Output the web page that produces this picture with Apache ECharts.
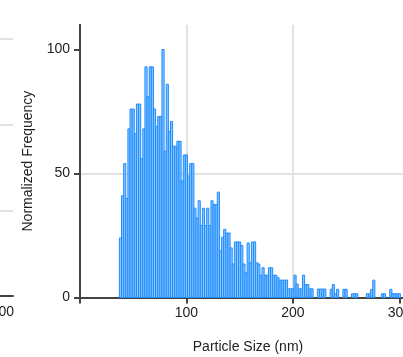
<!DOCTYPE html>
<html>
<head>
<meta charset="utf-8">
<script src="https://cdn.jsdelivr.net/npm/echarts@6/dist/echarts.min.js"></script>
<style>
  html, body { margin: 0; padding: 0; background: #fff; }
  #chart { width: 403px; height: 357px; }
</style>
</head>
<body>
<div id="chart"></div>
<script>
// histogram bins: 2 nm wide, first bin starts at 37 nm
var binStart = 37;
var binWidth = 2;
// normalized frequency per bin
var freq = [
  24, 41, 54, 40, 68, 76, 76, 66, 78, 78,
  56, 68, 93, 81, 93, 93, 76, 69, 73, 73,
  100, 59, 86, 67, 71, 61, 61, 63, 63, 47,
  57.5, 57.5, 49, 54, 54, 36, 32, 39, 29, 36,
  29, 36, 29, 39, 37.5, 37.5, 42.5, 18.8, 24.3, 27.5,
  26, 26, 20, 13.5, 22.4, 22.4, 22.4, 21, 13.5, 10,
  22, 14, 22.4, 22.4, 14, 13.5, 9, 12, 9, 9,
  12, 12, 9, 9, 8, 7, 7, 7, 7, 3.5,
  3.5, 3.5, 9, 5.4, 3.5, 3.5, 9, 5.2, 5.2, 3.5,
  3.5, 0, 0, 3.4, 3.4, 3.4, 3.4, 0, 0, 3.3,
  5.2, 1.5, 3.3, 0, 0, 3.3, 3.3, 0, 0, 1.5,
  1.5, 1.5, 0, 0, 0, 0, 1.5, 1.5, 3.2, 7,
  0, 0, 0, 1.5, 1.5, 0, 0, 3.3, 1.5, 1.5,
  1.5, 1.5
];
var xTicks = [0, 100, 200, 300];
var xLabels = [100, 200, 300];
var yTicks = [0, 50, 100];

var bars = [];
freq.forEach(function (v, i) {
  if (v > 0) bars.push([binStart + i * binWidth, binStart + (i + 1) * binWidth, v]);
});

var tickFont = { fontFamily: 'Liberation Sans Narrow, Liberation Sans, sans-serif', fontSize: 14, color: '#222' };
var axisLineStyle = { color: '#444', width: 2 };
var gridLineStyle = { color: '#e2e2e2', width: 2 };

var chart = echarts.init(document.getElementById('chart'), null, { renderer: 'canvas' });

var option = {
  animation: false,
  grid: [
    { left: 80, top: 24.7, width: 330, height: 272.8, outerBoundsMode: 'none', containLabel: false },
    // neighbouring panel, only its right edge shows
    { left: -317, top: 39, width: 330, height: 257, outerBoundsMode: 'none', containLabel: false }
  ],
  xAxis: [{
    gridIndex: 0,
    type: 'value',
    min: 0, max: 310, interval: 100,
    name: 'Particle Size (nm)',
    nameLocation: 'middle',
    nameGap: 43,
    nameTextStyle: { fontFamily: 'Liberation Sans, sans-serif', fontSize: 14, color: '#222', padding: [0, 0, 0, 6] },
    axisLine: { show: true, lineStyle: axisLineStyle },
    axisTick: { show: true, length: 6, lineStyle: { color: '#444', width: 2 }, customValues: xTicks },
    axisLabel: Object.assign({ margin: 9, customValues: xLabels }, tickFont),
    splitLine: { show: true, lineStyle: gridLineStyle, showMinLine: false, showMaxLine: false }
  }, {
    gridIndex: 1,
    type: 'value',
    min: 0, max: 310, interval: 100,
    axisLine: { show: true, lineStyle: axisLineStyle },
    axisTick: { show: false },
    axisLabel: Object.assign({ margin: 9, customValues: xLabels }, tickFont),
    splitLine: { show: false }
  }],
  yAxis: [{
    gridIndex: 0,
    type: 'value',
    min: 0, max: 110, interval: 50,
    name: 'Normalized Frequency',
    nameLocation: 'middle',
    nameGap: 45,
    nameTextStyle: { fontFamily: 'Liberation Sans, sans-serif', fontSize: 14, color: '#222' },
    axisLine: { show: true, lineStyle: axisLineStyle },
    axisTick: { show: true, length: 6, lineStyle: { color: '#444', width: 2 }, customValues: yTicks },
    axisLabel: Object.assign({ margin: 10, customValues: yTicks }, tickFont),
    splitLine: { show: true, lineStyle: gridLineStyle, showMinLine: false, showMaxLine: false }
  }, {
    gridIndex: 1,
    type: 'value',
    min: 0, max: 300, interval: 100,
    axisLine: { show: false },
    axisTick: { show: false },
    axisLabel: { show: false },
    splitLine: { show: true, lineStyle: gridLineStyle, showMinLine: false }
  }],
  series: [{
    type: 'custom',
    xAxisIndex: 0,
    yAxisIndex: 0,
    data: bars,
    encode: { x: [0, 1], y: 2 },
    renderItem: function (params, api) {
      var p0 = api.coord([api.value(0), api.value(2)]);
      var p1 = api.coord([api.value(1), 0]);
      return {
        type: 'rect',
        shape: { x: p0[0], y: p0[1], width: p1[0] - p0[0], height: p1[1] - p0[1] },
        style: { fill: '#8cc6ff', stroke: '#1e8cff', lineWidth: 1 }
      };
    }
  }]
};

chart.setOption(option);
</script>
</body>
</html>
